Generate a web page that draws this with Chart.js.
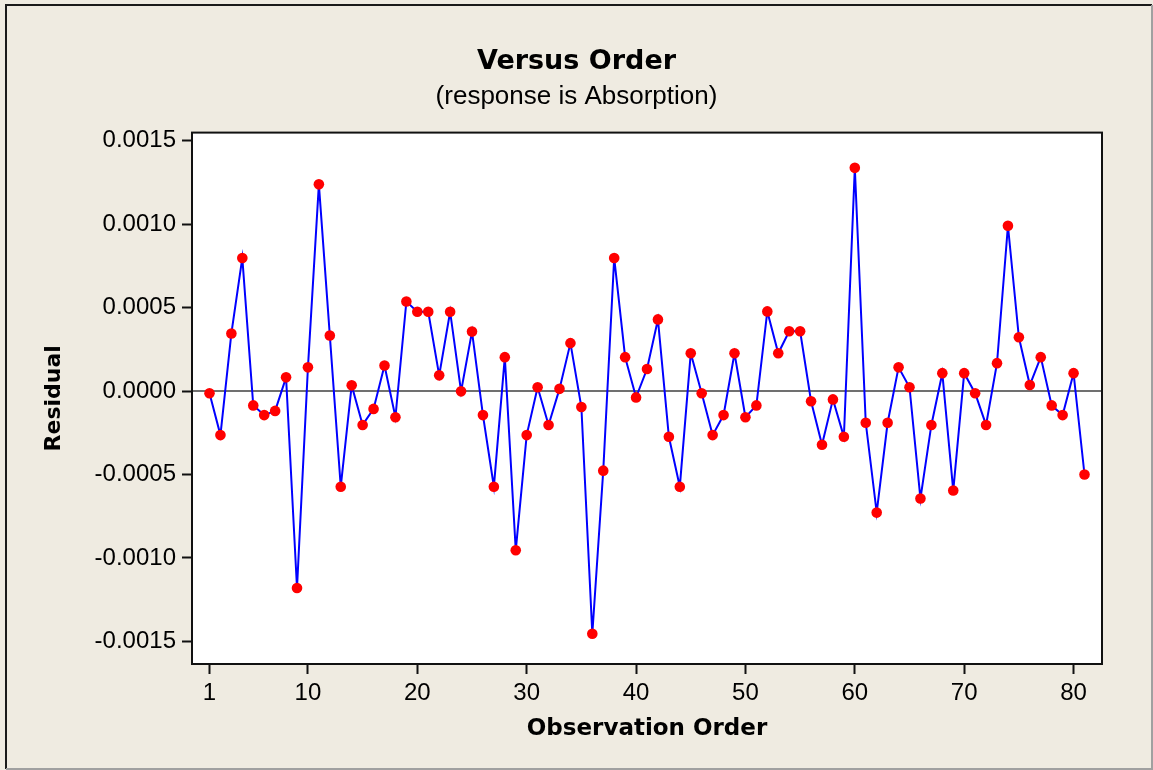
<!DOCTYPE html>
<html>
<head>
<meta charset="utf-8">
<title>Versus Order</title>
<script src="https://cdn.jsdelivr.net/npm/chart.js@4/dist/chart.umd.min.js"></script>
<style>
  html, body { margin: 0; padding: 0; background: #efebe1; }
  #wrap { width: 1153px; height: 770px; }
</style>
</head>
<body>
<div id="wrap"><canvas id="myChart" width="1153" height="770"></canvas></div>
<script>
// residuals in observation order
const residuals = [
  -0.000013, -0.000264, 0.000345, 0.000797, -0.000086, -0.000144, -0.000119, 0.000082, -0.00118, 0.000142,
  0.001238, 0.000333, -0.000573, 0.000034, -0.000203, -0.000107, 0.000153, -0.000157, 0.000536, 0.000475,
  0.000475, 0.000094, 0.000475, -0.000002, 0.000356, -0.000144, -0.000573, 0.000203, -0.000954, -0.000264,
  0.000023, -0.000203, 0.000013, 0.000287, -0.000096, -0.001454, -0.000477, 0.000797, 0.000203, -0.000038,
  0.000132, 0.000429, -0.000274, -0.000573, 0.000226, -0.000013, -0.000264, -0.000144, 0.000226, -0.000157,
  -0.000086, 0.000477, 0.000226, 0.000358, 0.000358, -0.000061, -0.000322, -0.00005, -0.000274, 0.001337,
  -0.00019, -0.000728, -0.00019, 0.000142, 0.000023, -0.000644, -0.000203, 0.000107, -0.000596, 0.000107,
  -0.000013, -0.000203, 0.000167, 0.00099, 0.000322, 0.000036, 0.000203, -0.000086, -0.000144, 0.000107,
  -0.0005
];
const observationOrder = residuals.map((r, i) => i + 1);
const xTicks = [1, 10, 20, 30, 40, 50, 60, 70, 80];
const yTicks = [-0.0015, -0.001, -0.0005, 0, 0.0005, 0.001, 0.0015];

const ctx = document.getElementById("myChart");

Chart.defaults.font.family = "'Liberation Sans', Arial, sans-serif";
Chart.defaults.color = "#000";

// beige frame, white plot area with black box and zero reference line
const framePlugin = {
  id: "frame",
  beforeDraw(chart) {
    const c = chart.ctx;
    const a = chart.chartArea;
    c.save();
    c.fillStyle = "#efebe1";
    c.fillRect(0, 0, chart.width, chart.height);
    c.fillStyle = "#ffffff";
    c.fillRect(a.left, a.top, a.right - a.left, a.bottom - a.top);
    // outer border
    c.lineWidth = 2;
    c.strokeStyle = "#1a1a1a";
    c.beginPath();
    c.moveTo(6, 769);
    c.lineTo(6, 5);
    c.lineTo(1152, 5);
    c.stroke();
    c.strokeStyle = "#a0a0a0";
    c.beginPath();
    c.moveTo(1152, 5);
    c.lineTo(1152, 769);
    c.lineTo(6, 769);
    c.stroke();
    // zero line
    const y0 = chart.scales.y.getPixelForValue(0);
    c.strokeStyle = "#404040";
    c.lineWidth = 1.5;
    c.beginPath();
    c.moveTo(a.left, y0);
    c.lineTo(a.right, y0);
    c.stroke();
    c.restore();
  },
  afterDraw(chart) {
    const c = chart.ctx;
    const a = chart.chartArea;
    c.save();
    c.strokeStyle = "#111";
    c.lineWidth = 2;
    c.strokeRect(a.left, a.top, a.right - a.left, a.bottom - a.top);
    c.restore();
  }
};

new Chart(ctx, {
  type: "line",
  data: {
    datasets: [
      {
        label: "Residual",
        data: observationOrder.map((o, i) => ({ x: o, y: residuals[i] })),
        borderColor: "#0000ff",
        borderWidth: 2,
        tension: 0,
        fill: false,
        pointRadius: 5.3,
        pointBackgroundColor: "#ff0000",
        pointBorderWidth: 0,
        pointHoverRadius: 5.3
      }
    ]
  },
  options: {
    responsive: false,
    animation: false,
    layout: { padding: { left: 51, right: 51, top: 0, bottom: 0 } },
    plugins: {
      legend: { display: false },
      tooltip: { enabled: false },
      title: {
        display: true,
        text: "Versus Order",
        color: "#000",
        font: { family: "'DejaVu Sans', sans-serif", size: 27, weight: "bold" },
        padding: { top: 46, bottom: 0 },
        fullSize: true
      },
      subtitle: {
        display: true,
        text: "(response is Absorption)",
        color: "#000",
        font: { family: "'Liberation Sans', Arial, sans-serif", size: 26 },
        padding: { top: 3, bottom: 20 },
        fullSize: true
      }
    },
    scales: {
      x: {
        type: "linear",
        min: -0.6,
        max: 82.6,
        afterBuildTicks(scale) {
          scale.ticks = xTicks.map((v) => ({ value: v }));
        },
        afterFit(scale) {
          scale.height = 106;
        },
        ticks: {
          font: { size: 24 },
          padding: 5,
          maxRotation: 0,
          autoSkip: false,
          callback: (v) => String(v)
        },
        grid: {
          drawOnChartArea: false,
          drawTicks: true,
          tickLength: 10,
          tickWidth: 2,
          tickColor: "#111"
        },
        border: { display: false },
        title: {
          display: true,
          text: "Observation Order",
          font: { family: "'DejaVu Sans', sans-serif", size: 23, weight: "bold" },
          padding: { top: 0, bottom: 27 }
        }
      },
      y: {
        min: -0.001635,
        max: 0.001548,
        afterBuildTicks(scale) {
          scale.ticks = yTicks.map((v) => ({ value: v }));
        },
        afterFit(scale) {
          scale.width = 141;
        },
        ticks: {
          font: { size: 24 },
          padding: 6,
          autoSkip: false,
          callback: (v) => v.toFixed(4)
        },
        grid: {
          drawOnChartArea: false,
          drawTicks: true,
          tickLength: 10,
          tickWidth: 2,
          tickColor: "#111"
        },
        border: { display: false },
        title: {
          display: true,
          text: "Residual",
          font: { family: "'DejaVu Sans', sans-serif", size: 22, weight: "bold" },
          padding: { top: -10, bottom: 0 }
        }
      }
    }
  },
  plugins: [framePlugin]
});
</script>
</body>
</html>
